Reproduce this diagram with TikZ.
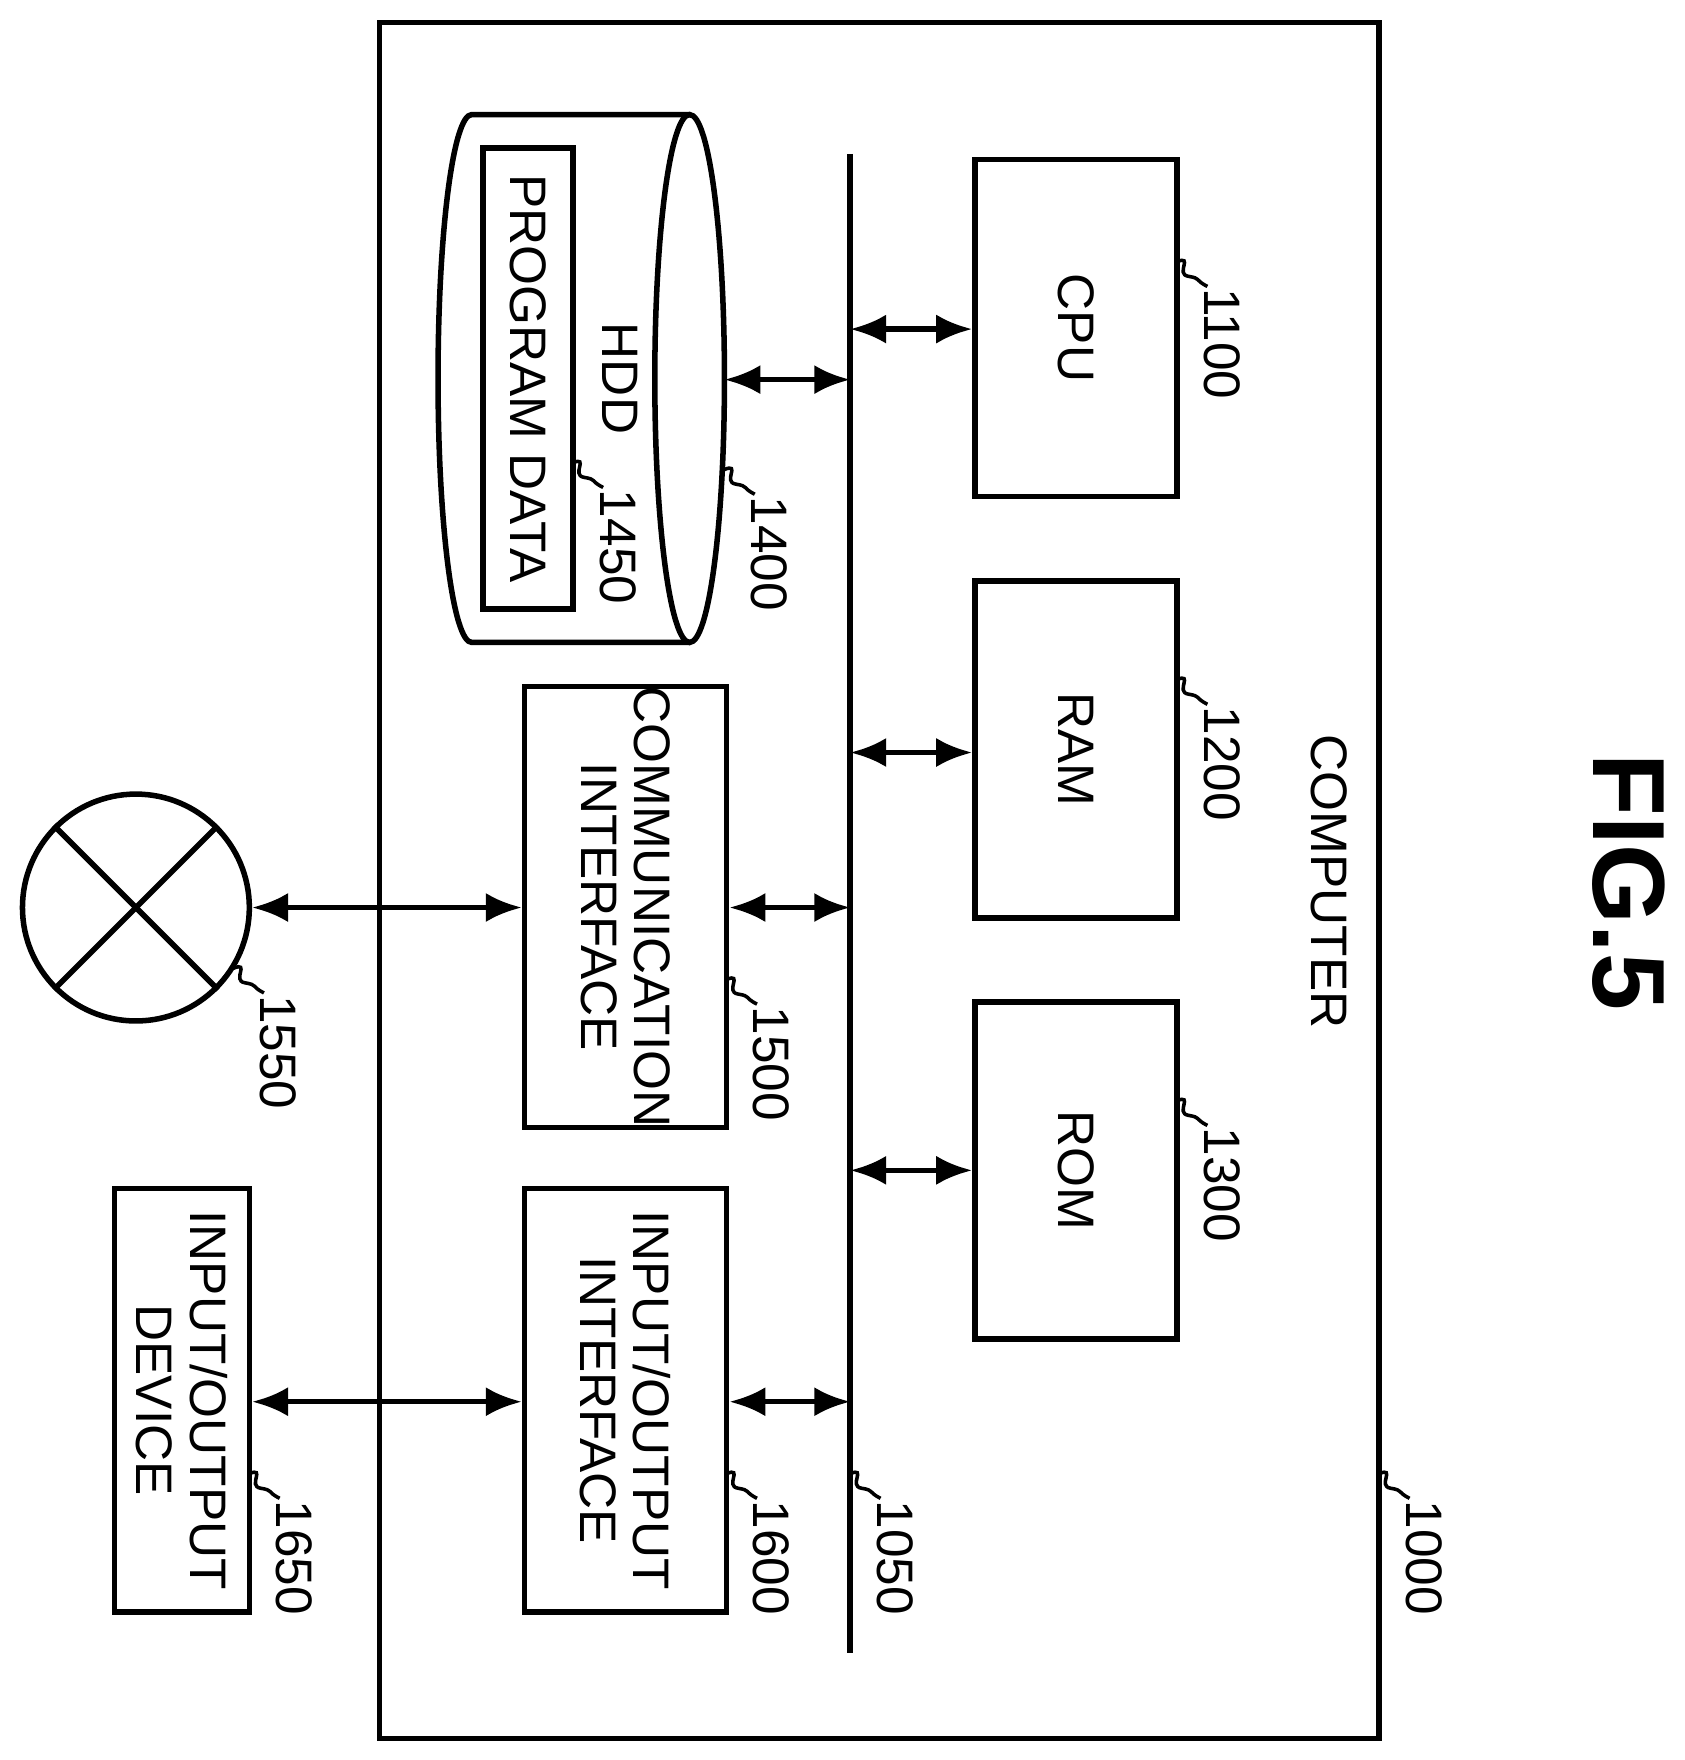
\documentclass[tikz,border=0pt]{standalone}
\usepackage{fontspec}
\setmainfont{Liberation Sans}
\usetikzlibrary{arrows.meta}
\usetikzlibrary{calc}

\begin{document}
\begin{tikzpicture}[x=1cm, y=1cm]
        % ================= styles =================
        \tikzset{
            % rotated block with text
            blk/.style={rectangle, draw=black, line width=1.4pt, rotate=-90, align=center, font=\fontsize{13}{13.5}\selectfont, inner sep=0pt},
            % plain rotated text
            txt/.style={rotate=-90, align=center, font=\fontsize{13}{13.5}\selectfont},
            % reference numerals
            refnum/.style={rotate=-90, anchor=west, font=\fontsize{13}{13}\selectfont, inner sep=1pt},
            squig/.style={line width=0.9pt},
            link/.style={line width=1.4pt, {Latex[length=3.2mm,width=2.6mm]}-{Latex[length=3.2mm,width=2.6mm]}}
        }
        % leader squiggle plus numeral
        \newcommand{\refmark}[3]{%
            \draw[squig] (#1) .. controls +(0.15,0.06) and +(-0.12,0.02) .. ($(#1)+(0.1,-0.13)$)
                .. controls +(0.12,-0.02) and +(-0.12,0.06) .. ($(#1)+(0.27,-0.22)$);
            \node[refnum] (#2) at ($(#1)+(0.40,-0.20)$) {#3};}

        \useasboundingbox (0,0) rectangle (15.0,-15.67);

        % ================= frame and bus =================
        \draw[line width=1.4pt] (3.38,-0.20) rectangle (12.28,-15.48);
        \node[txt] (comp) at (11.83,-7.85) {COMPUTER};
        \node[txt, font=\fontsize{26}{26}\selectfont\bfseries] (fig) at (14.50,-7.85) {FIG.5};
        \coordinate (busT) at (7.57,-1.37);
        \coordinate (busB) at (7.57,-14.72);
        \draw[line width=1.4pt] (busT) -- (busB);

        % ================= blocks =================
        \node[blk, minimum width=3.0cm, minimum height=1.8cm] (cpu) at (9.58,-2.92) {CPU};
        \node[blk, minimum width=3.0cm, minimum height=1.8cm] (ram) at (9.58,-6.675) {RAM};
        \node[blk, minimum width=3.0cm, minimum height=1.8cm] (rom) at (9.58,-10.42) {ROM};
        \node[blk, minimum width=3.77cm, minimum height=1.8cm] (comif) at (5.57,-8.075) {COMMUNICATION\\INTERFACE};
        \node[blk, minimum width=3.77cm, minimum height=1.8cm] (ioif) at (5.57,-12.465) {INPUT/OUTPUT\\INTERFACE};
        \node[blk, minimum width=3.77cm, minimum height=1.2cm] (iodev) at (1.62,-12.465) {INPUT/OUTPUT\\DEVICE};

        % HDD
        \draw[line width=1.4pt] (6.14,-1.02) -- (4.20,-1.02)
            arc[start angle=90, end angle=270, x radius=0.30cm, y radius=2.35cm]
            -- (6.14,-5.72);
        \draw[line width=1.4pt] (6.14,-3.37) ellipse[x radius=0.31cm, y radius=2.35cm];
        \coordinate (hdd) at (6.45,-3.38);
        \node[txt] (hddt) at (5.52,-3.37) {HDD};
        \node[blk, minimum width=4.1cm, minimum height=0.8cm] (prog) at (4.70,-3.37) {PROGRAM DATA};

        % network
        \node[circle, draw=black, line width=1.4pt, minimum size=2.02cm, inner sep=0pt] (net) at (1.21,-8.08) {};
        \draw[line width=1.4pt] (net.45) -- (net.225);
        \draw[line width=1.4pt] (net.135) -- (net.315);

        % ================= connectors =================
        \coordinate (b1) at (7.57,-2.93);
        \coordinate (b2) at (7.57,-6.70);
        \coordinate (b3) at (7.57,-10.42);
        \coordinate (b4) at (7.57,-3.38);
        \coordinate (b5) at (7.57,-8.08);
        \coordinate (b6) at (7.57,-12.48);
        \draw[link] (b1) -- (cpu.south |- b1);
        \draw[link] (b2) -- (ram.south |- b2);
        \draw[link] (b3) -- (rom.south |- b3);
        \draw[link] (b4) -- (hdd);
        \draw[link] (b5) -- (comif.north |- b5);
        \draw[link] (b6) -- (ioif.north |- b6);
        \draw[link] (net.east) -- (comif.south |- net.east);
        \draw[link] (iodev.north |- b6) -- (ioif.south |- b6);

        % ================= reference numerals =================
        \refmark{10.48,-2.33}{n1100}{1100}
        \refmark{10.48,-6.05}{n1200}{1200}
        \refmark{10.48,-9.80}{n1300}{1300}
        \refmark{6.45,-4.18}{n1400}{1400}
        \refmark{5.10,-4.12}{n1450}{1450}
        \refmark{6.47,-8.72}{n1500}{1500}
        \refmark{2.08,-8.62}{n1550}{1550}
        \refmark{6.47,-13.12}{n1600}{1600}
        \refmark{2.22,-13.12}{n1650}{1650}
        \refmark{7.57,-13.12}{n1050}{1050}
        \refmark{12.28,-13.12}{n1000}{1000}
\end{tikzpicture}
\end{document}
